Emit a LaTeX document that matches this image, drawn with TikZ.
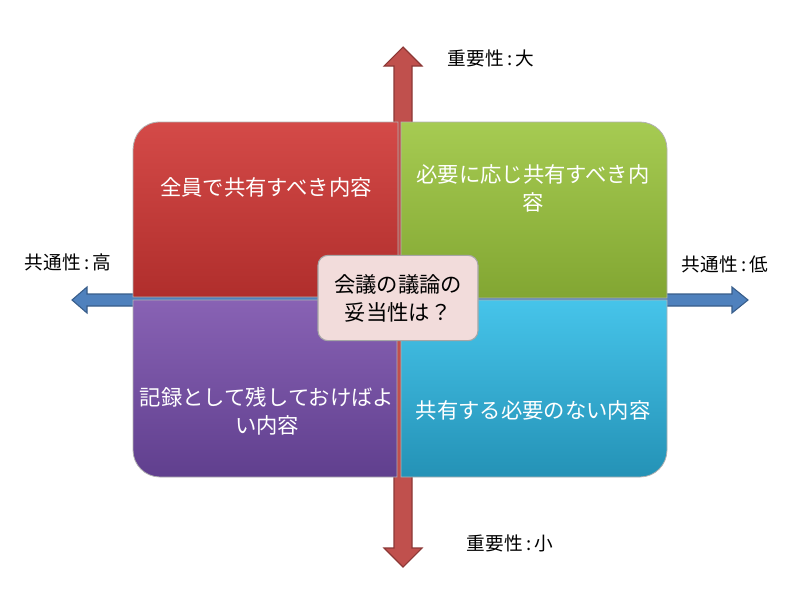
\documentclass[tikz,border=0pt]{standalone}
\usepackage{fontspec}
\setmainfont{Noto Sans CJK JP}
\definecolor{redA}{HTML}{D44A48}
\definecolor{redB}{HTML}{B02E2C}
\definecolor{greenA}{HTML}{A6CB52}
\definecolor{greenB}{HTML}{82A632}
\definecolor{purpA}{HTML}{8862B4}
\definecolor{purpB}{HTML}{603F8E}
\definecolor{cyanA}{HTML}{46C4EA}
\definecolor{cyanB}{HTML}{2492B6}
\definecolor{pinkbox}{HTML}{F2DCDB}
\definecolor{arrowred}{HTML}{C0504D}
\definecolor{arrowredB}{HTML}{8C3836}
\definecolor{arrowblue}{HTML}{4F81BD}
\definecolor{arrowblueB}{HTML}{385D8A}
\newcommand{\colsep}{\hspace{2.5pt}:\hspace{2.5pt}}
\begin{document}
\begin{tikzpicture}[x=0.75pt,y=-0.75pt,
  quadtext/.style={text=white,align=center,font=\fontsize{16pt}{21pt}\selectfont},
  axislabel/.style={text=black,font=\fontsize{14pt}{16pt}\selectfont},
  centerbox/.style={draw=black!35,fill=pinkbox,rounded corners=7.5pt,line width=0.8pt,
    minimum width=120pt,minimum height=64pt,align=center,
    font=\fontsize{16pt}{21pt}\selectfont},
  quadedge/.style={draw=black!30,line width=0.6pt}]
\useasboundingbox (0,0) rectangle (800,600);
% axes (behind quadrants)
\path[fill=arrowred,draw=arrowredB,line width=0.8pt]
  (403,47) -- (422,66) -- (412,66) -- (412,548) -- (422,548) -- (403,567)
  -- (384,548) -- (394,548) -- (394,66) -- (384,66) -- cycle;
\path[fill=arrowblue,draw=arrowblueB,line width=0.8pt]
  (72,300) -- (87,287) -- (87,294) -- (732,294) -- (732,287) -- (748,300)
  -- (732,313) -- (732,306) -- (87,306) -- (87,313) -- cycle;
% quadrants
\shade[top color=redA,bottom color=redB,quadedge]
  (133,297) -- (133,150) .. controls (133,135) and (143,122) .. (160,122)
  -- (398,122) -- (398,297) -- cycle;
\shade[top color=greenA,bottom color=greenB,quadedge]
  (401,122) -- (640,122) .. controls (655,122) and (667,134) .. (667,149)
  -- (667,298) -- (401,298) -- cycle;
\shade[top color=purpA,bottom color=purpB,quadedge]
  (133,300) -- (397,300) -- (397,477) -- (160,477)
  .. controls (145,477) and (133,465) .. (133,450) -- cycle;
\shade[top color=cyanA,bottom color=cyanB,quadedge]
  (401,300) -- (667,300) -- (667,450) .. controls (667,465) and (655,477) .. (640,477)
  -- (401,477) -- cycle;
% quadrant texts
\node[quadtext] (q1) at (266,187) {全員で共有すべき内容};
\node[quadtext] (q2) at (533,188) {必要に応じ共有すべき内\\容};
\node[quadtext] (q3) at (267,411) {記録として残しておけばよ\\い内容};
\node[quadtext] (q4) at (533,410) {共有する必要のない内容};
% center
\node[centerbox] (c) at (398,298) {会議の議論の\\妥当性は？};
% axis labels
\node[axislabel] (top) at (491,58) {重要性\colsep 大};
\node[axislabel] (bottom) at (510,543) {重要性\colsep 小};
\node[axislabel] (left) at (68,262) {共通性\colsep 高};
\node[axislabel] (right) at (725,264) {共通性\colsep 低};
\end{tikzpicture}
\end{document}
